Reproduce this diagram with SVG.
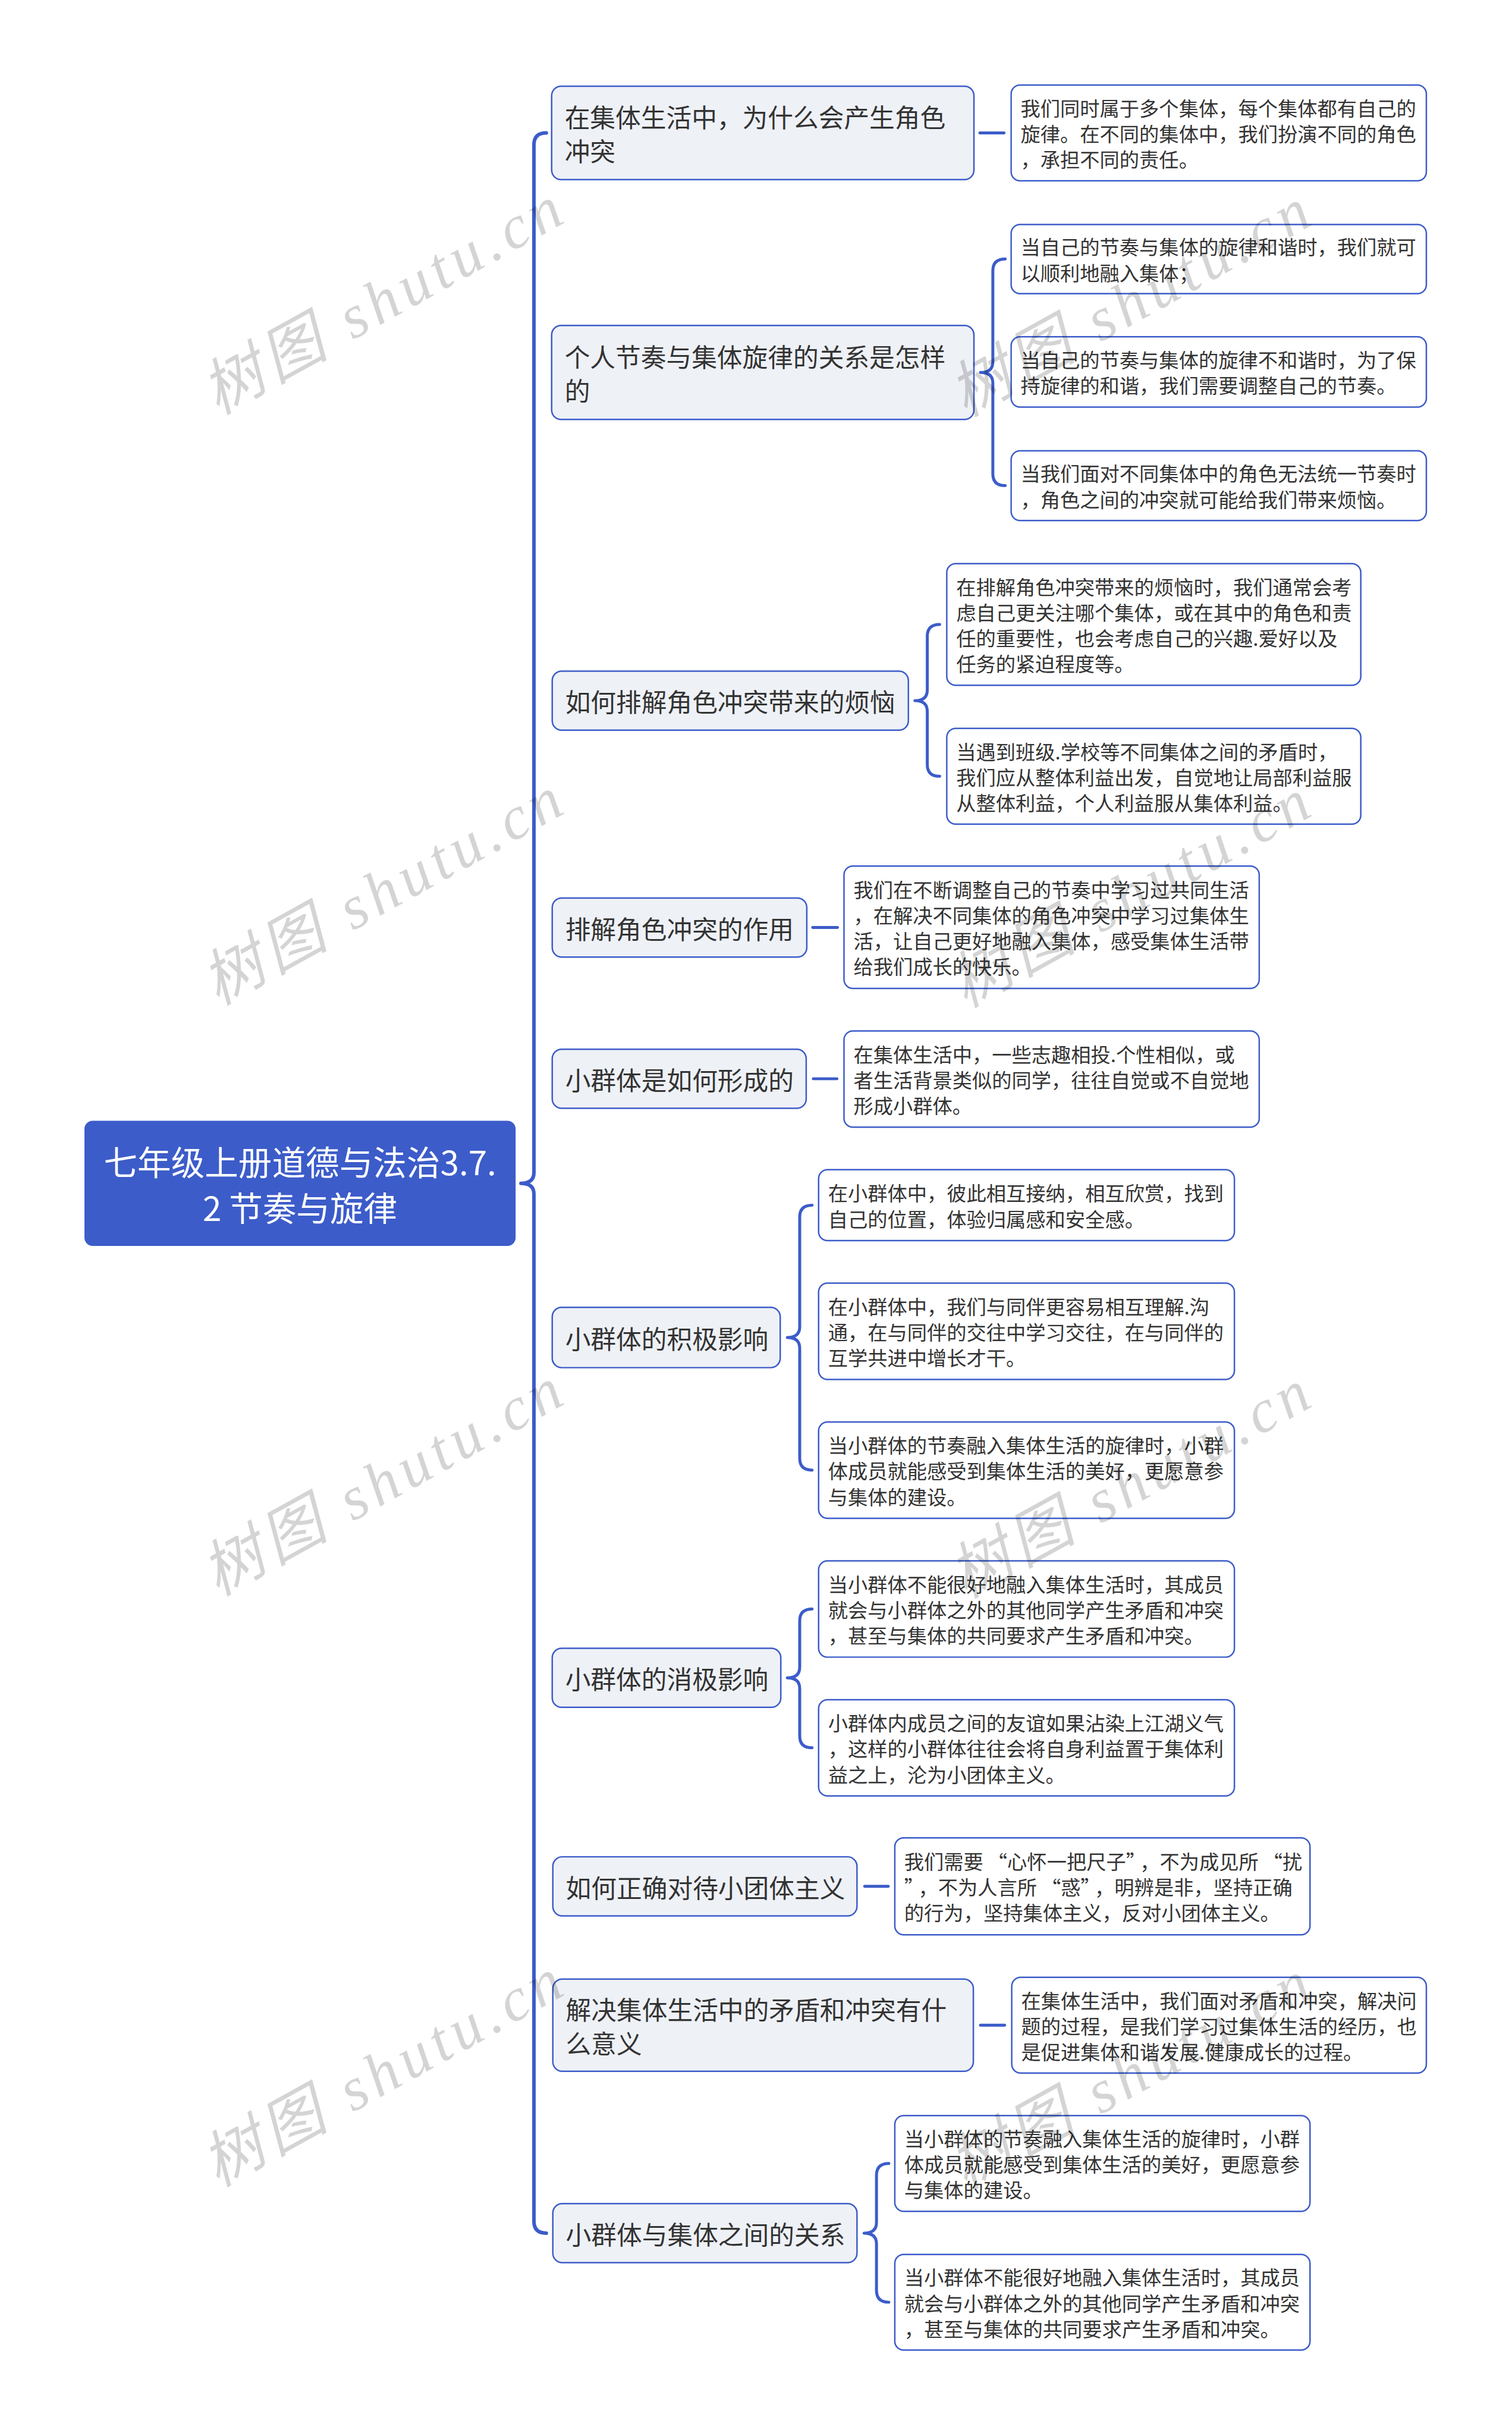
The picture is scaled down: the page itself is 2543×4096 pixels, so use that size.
<svg xmlns="http://www.w3.org/2000/svg" width="2543" height="4096" viewBox="0 0 2543 4096">
<style>
text{font-family:"Noto Sans CJK SC","Noto Sans",sans-serif;dominant-baseline:central}
.node rect{fill:#eef1f6;stroke:#3c5cc9;stroke-width:2.5}
.leaf rect{fill:#ffffff;stroke:#3c5cc9;stroke-width:2.5}
.nt{font-size:43px;fill:#333333}
.lt{font-size:33.5px;fill:#333333}
.rt{font-size:57px;fill:#ffffff;text-anchor:middle}
.conn path{fill:none;stroke:#3c5cc9;stroke-width:5;stroke-linecap:round;stroke-linejoin:round}
.conn path.trunk{stroke-width:6}
.wm text{font-family:"Liberation Serif","Noto Sans CJK SC",serif;font-style:italic;font-size:104px;fill:#000000;fill-opacity:0.17;dominant-baseline:central}
</style>
<rect width="2543" height="4096" fill="#ffffff"/>
<g transform="scale(0.99336)">
<g class="conn" id="connectors">
<path class="trunk" d="M925 225 Q904 225 904 245 L904 1985 Q904 2003 882 2003 Q904 2003 904 2021 L904 3760 Q904 3780 925 3780"/>
<path d="M1659 225 L1700 225"/>
<path d="M1702 438.5 Q1681 438.5 1681 458.5 L1681 612.5 Q1681 630.5 1660 630.5 Q1681 630.5 1681 648.5 L1681 802 Q1681 822 1702 822"/>
<path d="M1591 1057 Q1570 1057 1570 1077 L1570 1168 Q1570 1186 1549 1186 Q1570 1186 1570 1204 L1570 1294 Q1570 1314 1591 1314"/>
<path d="M1376 1570 L1418 1570"/>
<path d="M1377 1826 L1417 1826"/>
<path d="M1375 2040 Q1354 2040 1354 2060 L1354 2246 Q1354 2264 1333 2264 Q1354 2264 1354 2282 L1354 2468.5 Q1354 2488.5 1375 2488.5"/>
<path d="M1375 2723.5 Q1354 2723.5 1354 2743.5 L1354 2822 Q1354 2840 1333 2840 Q1354 2840 1354 2858 L1354 2938.5 Q1354 2958.5 1375 2958.5"/>
<path d="M1464 3193 L1504 3193"/>
<path d="M1660 3428 L1701 3428"/>
<path d="M1505 3662 Q1484 3662 1484 3682 L1484 3762 Q1484 3780 1463 3780 Q1484 3780 1484 3798 L1484 3877 Q1484 3897 1505 3897"/>
</g>

<g id="root">
<rect x="143" y="1897" width="730" height="212" rx="14" fill="#3c5cc9"/>
<text class="rt" x="508" y="1964">七年级上册道德与法治3.7.</text>
<text class="rt" x="508" y="2042">2 节奏与旋律</text>
</g>

<g id="n1" class="node">
<rect x="934" y="146" width="715" height="158" rx="16"/>
<text class="nt" x="956" y="196.5">在集体生活中，为什么会产生角色</text>
<text class="nt" x="956" y="253.5">冲突</text>
</g>
<g id="l1" class="leaf">
<rect x="1712" y="144" width="703" height="162" rx="15"/>
<text class="lt" x="1728" y="181.5">我们同时属于多个集体，每个集体都有自己的</text>
<text class="lt" x="1728" y="225">旋律。在不同的集体中，我们扮演不同的角色</text>
<text class="lt" x="1728" y="268.5">，承担不同的责任。</text>
</g>

<g id="n2" class="node">
<rect x="934" y="551" width="715" height="159" rx="16"/>
<text class="nt" x="956" y="602">个人节奏与集体旋律的关系是怎样</text>
<text class="nt" x="956" y="659">的</text>
</g>
<g id="l2a" class="leaf">
<rect x="1712" y="380" width="703" height="117" rx="15"/>
<text class="lt" x="1728" y="416.75">当自己的节奏与集体的旋律和谐时，我们就可</text>
<text class="lt" x="1728" y="460.25">以顺利地融入集体；</text>
</g>
<g id="l2b" class="leaf">
<rect x="1712" y="570" width="703" height="119" rx="15"/>
<text class="lt" x="1728" y="607.75">当自己的节奏与集体的旋律不和谐时，为了保</text>
<text class="lt" x="1728" y="651.25">持旋律的和谐，我们需要调整自己的节奏。</text>
</g>
<g id="l2c" class="leaf">
<rect x="1712" y="763" width="703" height="118" rx="15"/>
<text class="lt" x="1728" y="800.25">当我们面对不同集体中的角色无法统一节奏时</text>
<text class="lt" x="1728" y="843.75">，角色之间的冲突就可能给我们带来烦恼。</text>
</g>

<g id="n3" class="node">
<rect x="935" y="1136" width="603" height="100" rx="16"/>
<text class="nt" x="957" y="1186">如何排解角色冲突带来的烦恼</text>
</g>
<g id="l3a" class="leaf">
<rect x="1603" y="954" width="701" height="206" rx="15"/>
<text class="lt" x="1619" y="991.75">在排解角色冲突带来的烦恼时，我们通常会考</text>
<text class="lt" x="1619" y="1035.25">虑自己更关注哪个集体，或在其中的角色和责</text>
<text class="lt" x="1619" y="1078.75">任的重要性，也会考虑自己的兴趣.爱好以及</text>
<text class="lt" x="1619" y="1122.25">任务的紧迫程度等。</text>
</g>
<g id="l3b" class="leaf">
<rect x="1603" y="1233" width="701" height="162" rx="15"/>
<text class="lt" x="1619" y="1270.5">当遇到班级.学校等不同集体之间的矛盾时，</text>
<text class="lt" x="1619" y="1314">我们应从整体利益出发，自觉地让局部利益服</text>
<text class="lt" x="1619" y="1357.5">从整体利益，个人利益服从集体利益。</text>
</g>

<g id="n4" class="node">
<rect x="935" y="1520" width="431" height="100" rx="16"/>
<text class="nt" x="957" y="1570">排解角色冲突的作用</text>
</g>
<g id="l4" class="leaf">
<rect x="1429" y="1466" width="703" height="207" rx="15"/>
<text class="lt" x="1445" y="1504.25">我们在不断调整自己的节奏中学习过共同生活</text>
<text class="lt" x="1445" y="1547.75">，在解决不同集体的角色冲突中学习过集体生</text>
<text class="lt" x="1445" y="1591.25">活，让自己更好地融入集体，感受集体生活带</text>
<text class="lt" x="1445" y="1634.75">给我们成长的快乐。</text>
</g>

<g id="n5" class="node">
<rect x="935" y="1776" width="430" height="100" rx="16"/>
<text class="nt" x="957" y="1826">小群体是如何形成的</text>
</g>
<g id="l5" class="leaf">
<rect x="1429" y="1745" width="703" height="163" rx="15"/>
<text class="lt" x="1445" y="1783">在集体生活中，一些志趣相投.个性相似，或</text>
<text class="lt" x="1445" y="1826.5">者生活背景类似的同学，往往自觉或不自觉地</text>
<text class="lt" x="1445" y="1870">形成小群体。</text>
</g>

<g id="n6" class="node">
<rect x="935" y="2213" width="386" height="102" rx="16"/>
<text class="nt" x="957" y="2264">小群体的积极影响</text>
</g>
<g id="l6a" class="leaf">
<rect x="1386" y="1980" width="704" height="120" rx="15"/>
<text class="lt" x="1402" y="2018.25">在小群体中，彼此相互接纳，相互欣赏，找到</text>
<text class="lt" x="1402" y="2061.75">自己的位置，体验归属感和安全感。</text>
</g>
<g id="l6b" class="leaf">
<rect x="1386" y="2172" width="704" height="163" rx="15"/>
<text class="lt" x="1402" y="2210">在小群体中，我们与同伴更容易相互理解.沟</text>
<text class="lt" x="1402" y="2253.5">通，在与同伴的交往中学习交往，在与同伴的</text>
<text class="lt" x="1402" y="2297">互学共进中增长才干。</text>
</g>
<g id="l6c" class="leaf">
<rect x="1386" y="2407" width="704" height="163" rx="15"/>
<text class="lt" x="1402" y="2445">当小群体的节奏融入集体生活的旋律时，小群</text>
<text class="lt" x="1402" y="2488.5">体成员就能感受到集体生活的美好，更愿意参</text>
<text class="lt" x="1402" y="2532">与集体的建设。</text>
</g>

<g id="n7" class="node">
<rect x="935" y="2790" width="387" height="100" rx="16"/>
<text class="nt" x="957" y="2840">小群体的消极影响</text>
</g>
<g id="l7a" class="leaf">
<rect x="1386" y="2642" width="704" height="163" rx="15"/>
<text class="lt" x="1402" y="2680">当小群体不能很好地融入集体生活时，其成员</text>
<text class="lt" x="1402" y="2723.5">就会与小群体之外的其他同学产生矛盾和冲突</text>
<text class="lt" x="1402" y="2767">，甚至与集体的共同要求产生矛盾和冲突。</text>
</g>
<g id="l7b" class="leaf">
<rect x="1386" y="2877" width="704" height="163" rx="15"/>
<text class="lt" x="1402" y="2915">小群体内成员之间的友谊如果沾染上江湖义气</text>
<text class="lt" x="1402" y="2958.5">，这样的小群体往往会将自身利益置于集体利</text>
<text class="lt" x="1402" y="3002">益之上，沦为小团体主义。</text>
</g>

<g id="n8" class="node">
<rect x="936" y="3143" width="515" height="100" rx="16"/>
<text class="nt" x="958" y="3193">如何正确对待小团体主义</text>
</g>
<g id="l8" class="leaf">
<rect x="1515" y="3111" width="703" height="164" rx="15"/>
<text class="lt" x="1531" y="3149.5">我们需要<tspan dx="7">“</tspan>心怀一把尺子”<tspan dx="7">，</tspan>不为成见所<tspan dx="7">“</tspan>扰</text>
<text class="lt" x="1531" y="3193">”<tspan dx="7">，</tspan>不为人言所<tspan dx="7">“</tspan>惑”<tspan dx="7">，</tspan>明辨是非，坚持正确</text>
<text class="lt" x="1531" y="3236.5">的行为，坚持集体主义，反对小团体主义。</text>
</g>

<g id="n9" class="node">
<rect x="936" y="3350" width="712" height="156" rx="16"/>
<text class="nt" x="958" y="3399.5">解决集体生活中的矛盾和冲突有什</text>
<text class="nt" x="958" y="3456.5">么意义</text>
</g>
<g id="l9" class="leaf">
<rect x="1713" y="3347" width="702" height="162" rx="15"/>
<text class="lt" x="1729" y="3384.5">在集体生活中，我们面对矛盾和冲突，解决问</text>
<text class="lt" x="1729" y="3428">题的过程，是我们学习过集体生活的经历，也</text>
<text class="lt" x="1729" y="3471.5">是促进集体和谐发展.健康成长的过程。</text>
</g>

<g id="n10" class="node">
<rect x="936" y="3730" width="515" height="100" rx="16"/>
<text class="nt" x="958" y="3780">小群体与集体之间的关系</text>
</g>
<g id="l10a" class="leaf">
<rect x="1515" y="3581" width="703" height="162" rx="15"/>
<text class="lt" x="1531" y="3618.5">当小群体的节奏融入集体生活的旋律时，小群</text>
<text class="lt" x="1531" y="3662">体成员就能感受到集体生活的美好，更愿意参</text>
<text class="lt" x="1531" y="3705.5">与集体的建设。</text>
</g>
<g id="l10b" class="leaf">
<rect x="1515" y="3816" width="703" height="162" rx="15"/>
<text class="lt" x="1531" y="3853.5">当小群体不能很好地融入集体生活时，其成员</text>
<text class="lt" x="1531" y="3897">就会与小群体之外的其他同学产生矛盾和冲突</text>
<text class="lt" x="1531" y="3940.5">，甚至与集体的共同要求产生矛盾和冲突。</text>
</g>

<g class="wm" id="watermarks">
<text transform="translate(351 672) rotate(-29)" textLength="676" lengthAdjust="spacing">树图 shutu.cn</text>
<text transform="translate(351 1672) rotate(-29)" textLength="676" lengthAdjust="spacing">树图 shutu.cn</text>
<text transform="translate(351 2672) rotate(-29)" textLength="676" lengthAdjust="spacing">树图 shutu.cn</text>
<text transform="translate(351 3672) rotate(-29)" textLength="676" lengthAdjust="spacing">树图 shutu.cn</text>
<text transform="translate(1617 676) rotate(-29)" textLength="676" lengthAdjust="spacing">树图 shutu.cn</text>
<text transform="translate(1617 1676) rotate(-29)" textLength="676" lengthAdjust="spacing">树图 shutu.cn</text>
<text transform="translate(1617 2676) rotate(-29)" textLength="676" lengthAdjust="spacing">树图 shutu.cn</text>
<text transform="translate(1617 3676) rotate(-29)" textLength="676" lengthAdjust="spacing">树图 shutu.cn</text>
</g>
</g>
</svg>
